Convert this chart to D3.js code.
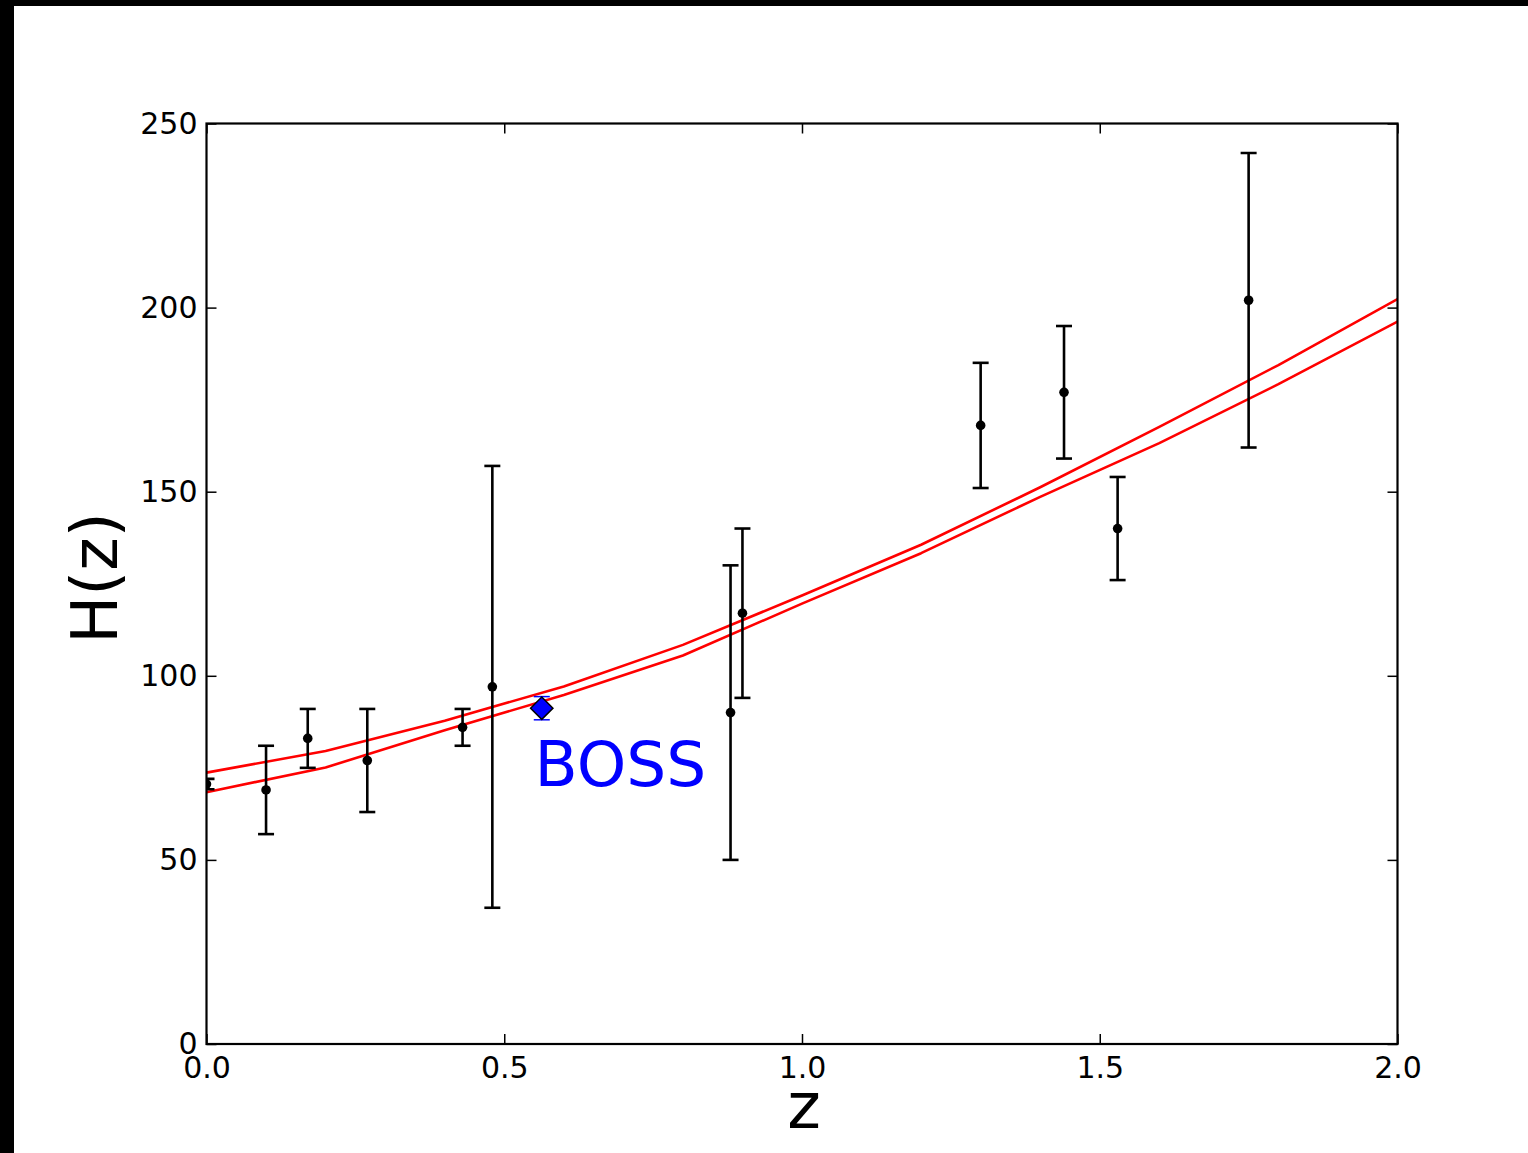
<!DOCTYPE html>
<html>
<head>
<meta charset="utf-8">
<script src="https://cdn.jsdelivr.net/npm/d3@7"></script>
<style>
  html, body { margin: 0; padding: 0; background: #000; }
  svg { display: block; }
</style>
</head>
<body>
<svg id="chart" width="1528" height="1153"></svg>
<script>
// Model curves H(z), sampled every 0.2 in redshift
const modelZ    = [0.0, 0.2, 0.4, 0.6, 0.8, 1.0, 1.2, 1.4, 1.6, 1.8, 2.0];
const modelHigh = [73.7, 79.6, 87.8, 97.1, 108.4, 121.8, 135.6, 151.2, 167.6, 184.4, 202.3];
const modelLow  = [68.4, 75.1, 85.2, 94.8, 105.5, 119.6, 133.3, 148.6, 163.2, 179.2, 196.2];

// Measured H(z) with 1-sigma errors
const obsZ   = [0.0, 0.1, 0.17, 0.27, 0.43, 0.48, 0.88, 0.9, 1.3, 1.44, 1.53, 1.75];
const obsH   = [70.6, 69, 83, 77, 86, 97, 90, 117, 168, 177, 140, 202];
const obsErr = [1.4, 12, 8, 14, 5, 60, 40, 23, 17, 18, 14, 40];

// BOSS measurement
const bossZ   = [0.563];
const bossH   = [91.2];
const bossErr = [3.15];
const bossLabel = "BOSS";

// Axis ticks and labels
const xTicks = [0.0, 0.5, 1.0, 1.5, 2.0];
const yTicks = [0, 50, 100, 150, 200, 250];
const xLabel = "z";
const yLabel = "H(z)";

const FONT = "'DejaVu Sans', sans-serif";
const svg = d3.select("#chart");

// white figure panel inside the dark frame
svg.append("rect")
  .attr("x", 14).attr("y", 6)
  .attr("width", 1528 - 14).attr("height", 1153 - 6)
  .attr("fill", "#fff");

const x = d3.scaleLinear().domain([0, 2]).range([206.5, 1397.5]);
const y = d3.scaleLinear().domain([0, 250]).range([1044, 123.5]);

const [x0, x1] = x.range();
const [y0, y1] = y.range();

svg.append("clipPath").attr("id", "plotClip")
  .append("rect")
  .attr("x", x0).attr("y", y1)
  .attr("width", x1 - x0).attr("height", y0 - y1);

const plot = svg.append("g").attr("clip-path", "url(#plotClip)");

// model curves
const line = d3.line().x((d, i) => x(modelZ[i])).y(d => y(d));
[modelHigh, modelLow].forEach(series => {
  plot.append("path")
    .datum(series)
    .attr("d", line)
    .attr("fill", "none")
    .attr("stroke", "#ff0000")
    .attr("stroke-width", 2.6)
    .attr("stroke-linejoin", "round");
});

// error bars with caps
function errorBars(zs, hs, es, color, width, capHalf) {
  const g = plot.append("g")
    .attr("stroke", color)
    .attr("stroke-width", width)
    .attr("fill", "none");
  zs.forEach((z, i) => {
    const cx = x(z), top = y(hs[i] + es[i]), bot = y(hs[i] - es[i]);
    g.append("line").attr("x1", cx).attr("x2", cx).attr("y1", top).attr("y2", bot);
    g.append("line").attr("x1", cx - capHalf).attr("x2", cx + capHalf).attr("y1", top).attr("y2", top);
    g.append("line").attr("x1", cx - capHalf).attr("x2", cx + capHalf).attr("y1", bot).attr("y2", bot);
  });
}

errorBars(obsZ, obsH, obsErr, "#000", 2.6, 8);

plot.append("g").selectAll("circle")
  .data(obsZ)
  .join("circle")
  .attr("cx", d => x(d))
  .attr("cy", (d, i) => y(obsH[i]))
  .attr("r", 4.8)
  .attr("fill", "#000");

// BOSS point: blue diamond with thin blue error bar
errorBars(bossZ, bossH, bossErr, "#0000ff", 1.5, 8);
const diamond = d3.symbol().type(d3.symbolSquare).size(250);
plot.append("g").selectAll("path")
  .data(bossZ)
  .join("path")
  .attr("d", diamond)
  .attr("transform", (d, i) => `translate(${x(d)},${y(bossH[i])}) rotate(45)`)
  .attr("fill", "#0000ff")
  .attr("stroke", "#000")
  .attr("stroke-width", 1.5);

svg.append("text")
  .attr("x", x(0.551))
  .attr("y", y(70))
  .attr("font-family", FONT)
  .attr("font-size", 63)
  .attr("fill", "#0000ff")
  .text(bossLabel);

// axes: inward ticks on all four sides
const fmtX = d3.format(".1f");
const axes = [
  svg.append("g").attr("transform", `translate(0,${y0})`)
    .call(d3.axisBottom(x).tickValues(xTicks).tickFormat(fmtX).tickSize(-10).tickPadding(13)),
  svg.append("g").attr("transform", `translate(0,${y1})`)
    .call(d3.axisTop(x).tickValues(xTicks).tickFormat("").tickSize(-10)),
  svg.append("g").attr("transform", `translate(${x0},0)`)
    .call(d3.axisLeft(y).tickValues(yTicks).tickFormat(d3.format("d")).tickSize(-10).tickPadding(9)),
  svg.append("g").attr("transform", `translate(${x1},0)`)
    .call(d3.axisRight(y).tickValues(yTicks).tickFormat("").tickSize(-10))
];
axes.forEach(g => {
  g.select(".domain").remove();
  g.selectAll(".tick line").attr("stroke", "#000").attr("stroke-width", 1.5);
  g.selectAll(".tick text")
    .attr("font-family", FONT)
    .attr("font-size", 30)
    .attr("fill", "#000");
});

// plot frame
svg.append("rect")
  .attr("x", x0).attr("y", y1)
  .attr("width", x1 - x0).attr("height", y0 - y1)
  .attr("fill", "none")
  .attr("stroke", "#000")
  .attr("stroke-width", 2.2);

// axis titles
svg.append("text")
  .attr("x", 804).attr("y", 1128)
  .attr("text-anchor", "middle")
  .attr("font-family", FONT)
  .attr("font-size", 64)
  .attr("fill", "#000")
  .text(xLabel);

svg.append("text")
  .attr("transform", "translate(117,578) rotate(-90)")
  .attr("text-anchor", "middle")
  .attr("font-family", FONT)
  .attr("font-size", 64)
  .attr("fill", "#000")
  .text(yLabel);
</script>
</body>
</html>
